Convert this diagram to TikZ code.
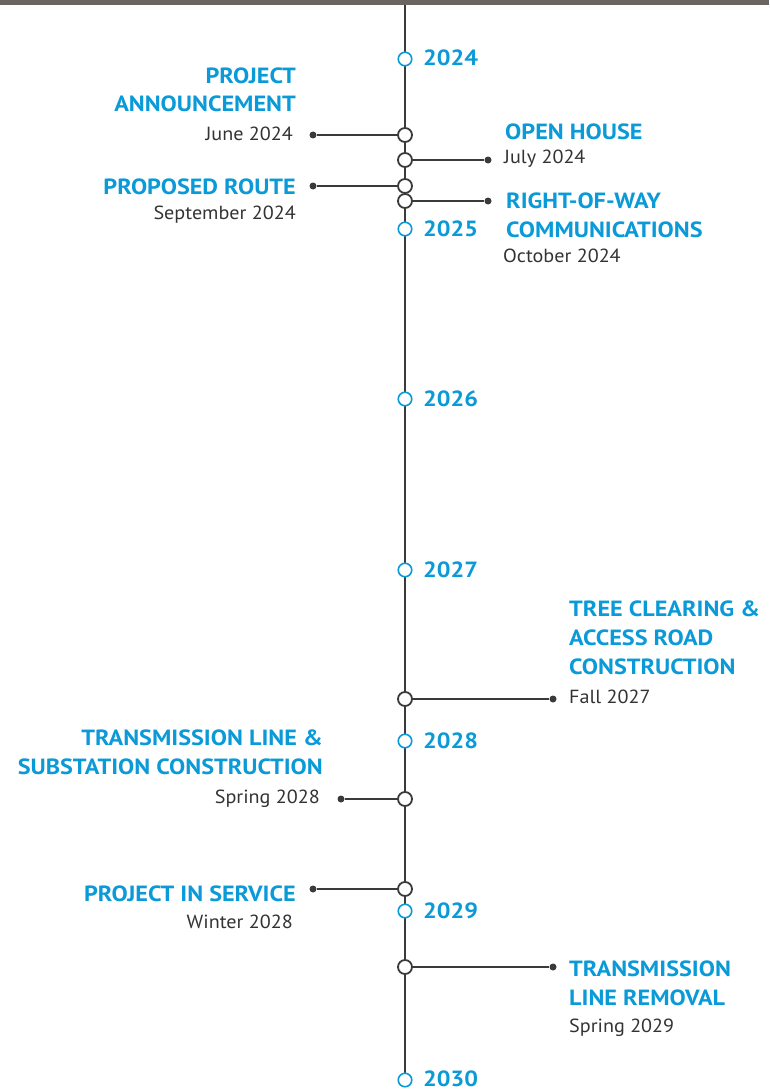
\documentclass[tikz,border=0pt]{standalone}
\usepackage{fontspec}
\setmainfont{PT Sans}
\newfontfamily\tlfont{PT Sans}[FakeStretch=1.1]
\newfontfamily\dtfont{PT Sans}[FakeStretch=1.06]
\definecolor{tblue}{HTML}{0A9AD8}
\definecolor{lc}{HTML}{3A3A3A}
\definecolor{dgray}{HTML}{333333}
\definecolor{topgray}{HTML}{6B6562}
\tikzset{
  yearc/.style={circle, draw=tblue, line width=1.6pt, fill=white, minimum size=13.5pt, inner sep=0pt},
  evc/.style={circle, draw=lc, line width=1.8pt, fill=white, minimum size=14pt, inner sep=0pt},
  dotn/.style={circle, fill=lc, minimum size=7pt, inner sep=0pt},
  ttl/.style={text=tblue, font=\tlfont\bfseries\fontsize{22}{22}\selectfont, inner sep=0pt},
  dt/.style={text=dgray, font=\dtfont\fontsize{19}{19}\selectfont, inner sep=0pt},
  conn/.style={draw=lc, line width=1.8pt}
}
\begin{document}
\begin{tikzpicture}[x=1pt,y=-1pt]
\useasboundingbox (0,0) rectangle (769,1089);
\fill[topgray] (0,0) rectangle (769,5.5);
\coordinate (top) at (405,5);
\coordinate (bot) at (405,1074);
\draw[conn] (top) -- (bot);
% years
\foreach \yr/\yy in {2024/59,2025/229,2026/399,2027/570,2028/741,2029/911}{
  \node[yearc] (y\yr) at (405,\yy) {};
  \node[ttl, anchor=base west] (ly\yr) at (423,\yy+7) {\yr};
}
\node[yearc] (y2030) at (405,1080) {};
\node[ttl, anchor=base west] (ly2030) at (423,1086) {2030};
% events
\node[evc] (e1) at (405,135) {};
\node[dotn] (d1) at (313,135) {};
\node[evc] (e2) at (405,160) {};
\node[dotn] (d2) at (488,160) {};
\node[evc] (e3) at (405,186) {};
\node[dotn] (d3) at (313,186) {};
\node[evc] (e4) at (405,201) {};
\node[dotn] (d4) at (488,201) {};
\node[evc] (e5) at (405,699) {};
\node[dotn] (d5) at (553,699) {};
\node[evc] (e6) at (405,799) {};
\node[dotn] (d6) at (341,799) {};
\node[evc] (e7) at (405,889) {};
\node[dotn] (d7) at (313,889) {};
\node[evc] (e8) at (405,967) {};
\node[dotn] (d8) at (553,967) {};
\foreach \i in {1,3,6,7}{\draw[conn] (e\i.west) -- (d\i);}
\foreach \i in {2,4,5,8}{\draw[conn] (e\i.east) -- (d\i);}
% labels
\node[ttl, anchor=base east] (t1a) at (296,83.5) {PROJECT};
\node[ttl, anchor=base east] (t1b) at (296,111.5) {ANNOUNCEMENT};
\node[dt, anchor=base east] (s1) at (293,140) {June 2024};
\node[ttl, anchor=base west] (t2) at (505,139.5) {OPEN HOUSE};
\node[dt, anchor=base west] (s2) at (504,163.5) {July 2024};
\node[ttl, anchor=base east] (t3) at (296,194.5) {PROPOSED ROUTE};
\node[dt, anchor=base east] (s3) at (296,219.5) {September 2024};
\node[ttl, anchor=base west] (t4a) at (506,208.5) {RIGHT-OF-WAY};
\node[ttl, anchor=base west] (t4b) at (506,237.5) {COMMUNICATIONS};
\node[dt, anchor=base west] (s4) at (503,262.5) {October 2024};
\node[ttl, anchor=base west] (t5a) at (569,616.5) {TREE CLEARING \&};
\node[ttl, anchor=base west] (t5b) at (569,645.5) {ACCESS ROAD};
\node[ttl, anchor=base west] (t5c) at (569,674.5) {CONSTRUCTION};
\node[dt, anchor=base west] (s5) at (569,703.5) {Fall 2027};
\node[ttl, anchor=base east] (t6a) at (323,745.5) {TRANSMISSION LINE \&};
\node[ttl, anchor=base east] (t6b) at (323,774.5) {SUBSTATION CONSTRUCTION};
\node[dt, anchor=base east] (s6) at (320,803.5) {Spring 2028};
\node[ttl, anchor=base east] (t7) at (296,901.5) {PROJECT IN SERVICE};
\node[dt, anchor=base east] (s7) at (293,928.5) {Winter 2028};
\node[ttl, anchor=base west] (t8a) at (569,976.5) {TRANSMISSION};
\node[ttl, anchor=base west] (t8b) at (569,1005.5) {LINE REMOVAL};
\node[dt, anchor=base west] (s8) at (569,1032.5) {Spring 2029};
\end{tikzpicture}
\end{document}
